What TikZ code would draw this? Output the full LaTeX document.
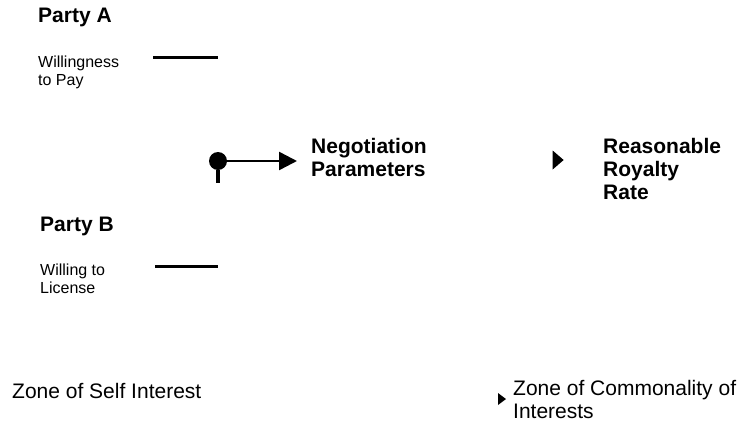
\documentclass[tikz,border=0pt]{standalone}
\usepackage{xcolor}
\usepackage{fontspec}
\setmainfont{Liberation Sans}
\usetikzlibrary{shapes.geometric, arrows.meta, positioning, calc}

\newcommand{\textlines}[1]{\begin{tabular}[t]{@{}l@{}}#1\end{tabular}}

\begin{document}
\begin{tikzpicture}[x=1pt, y=-1pt]
    \tikzstyle{party} = [font=\bfseries\fontsize{21}{23}\selectfont, anchor=base west, inner sep=0pt]
    \tikzstyle{note} = [font=\fontsize{16}{18}\selectfont, anchor=base west, inner sep=0pt]
    \tikzstyle{zone} = [font=\fontsize{21}{23}\selectfont, anchor=base west, inner sep=0pt]
    \tikzstyle{bar} = [line width=3pt]
    \tikzstyle{pointer} = [isosceles triangle, isosceles triangle stretches, fill, inner sep=0pt]
    \tikzstyle{arrow} = [line width=2.5pt, -{Triangle[length=18pt, width=18pt]}]

    \useasboundingbox (0,0) rectangle (747,426);

    % left side: the two parties
    \node[party] (partyA) at (38,22) {Party A};
    \node[note] (pay) at (38,67) {\textlines{Willingness\\to Pay}};
    \coordinate (barAl) at (153,57);
    \coordinate (barAr) at (218,57);

    \node[party] (partyB) at (40,231) {Party B};
    \node[note] (license) at (40,275) {\textlines{Willing to\\License}};
    \coordinate (barBl) at (155,266);
    \coordinate (barBr) at (218,266);

    \draw[bar] (barAl) -- (barAr);
    \draw[bar] (barBl) -- (barBr);

    % middle: negotiation
    \node[circle, fill, inner sep=0pt, minimum size=18pt] (hub) at (218,161) {};
    \coordinate (tail) at (218,183);
    \node[party] (params) at (311,153) {\textlines{Negotiation\\Parameters}};
    \coordinate (tip) at (297,161);

    \draw[line width=3.5pt] (hub) -- (tail);
    \draw[arrow] (hub) -- (tip);

    % right side: outcome
    \node[pointer, minimum height=11pt, minimum width=19pt] (outA) at (557,160) {};
    \node[party] (rate) at (603,153) {\textlines{Reasonable\\Royalty\\Rate}};

    % bottom: zones
    \node[zone] (self) at (12,398) {Zone of Self Interest};
    \node[pointer, minimum height=8pt, minimum width=12pt] (outB) at (501,399) {};
    \node[zone] (common) at (513,395) {\textlines{Zone of Commonality of\\Interests}};
\end{tikzpicture}
\end{document}
